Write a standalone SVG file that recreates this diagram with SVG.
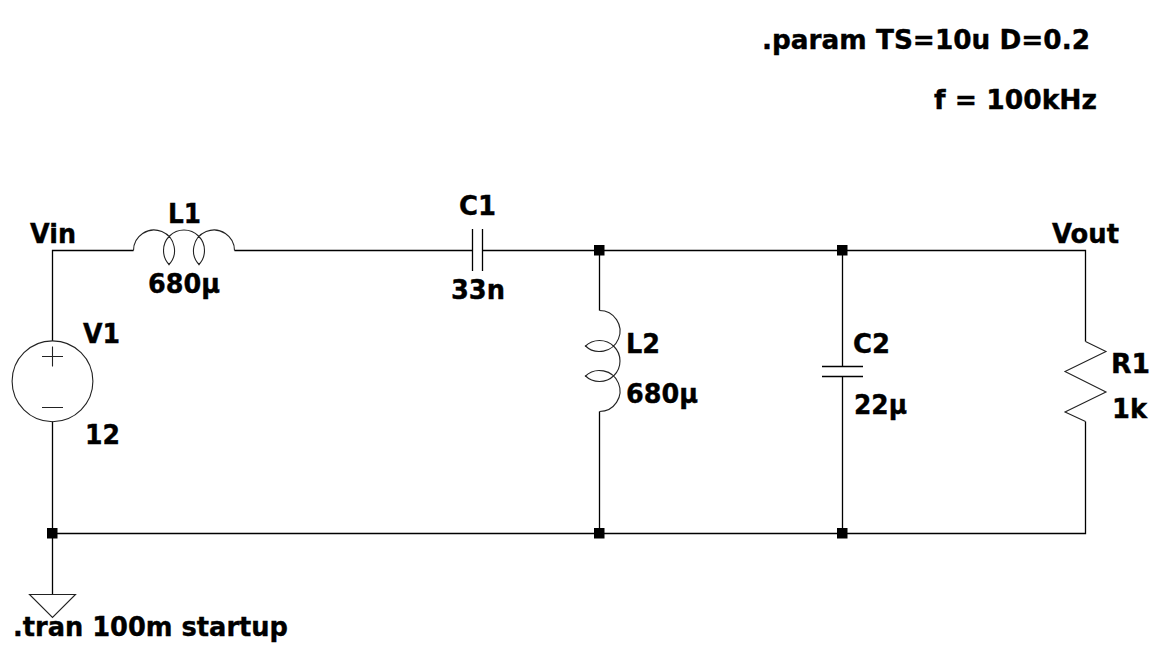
<svg xmlns="http://www.w3.org/2000/svg" width="1158" height="671" viewBox="0 0 1158 671">
<style>
.w{fill:none;stroke:#000;stroke-width:1.3}
.c{fill:none;stroke:#222;stroke-width:1.1}
.j{fill:#000}
text{font-family:"DejaVu Sans","Liberation Sans",sans-serif;font-weight:700;font-size:27px;fill:#000;stroke:#000;stroke-width:.4}
</style>
<defs>
<path id="coil" d="M0 0A20.5 20.5 0 1 1 35 14.5M36 14.5A20.5 20.5 0 1 1 65 14.5M66 14.5A20.5 20.5 0 1 1 101 0"/>
</defs>
<rect width="1158" height="671" fill="#fff"/>
<g id="connectors">
<path class="w" d="M52.5 341V250.5H133.5M234.5 250.5H472.5M482.5 250.5H1085.5V341.5M1085.5 421.5V533.5H52.5M52.5 421.5V594.5M599.5 250.5V310.5M599.5 411.5V533.5M842.5 250.5V366M842.5 376V533.5"/>
<rect class="j" x="594" y="245" width="10.500" height="10.500"/>
<rect class="j" x="837" y="245" width="10.500" height="10.500"/>
<rect class="j" x="47" y="528" width="10.500" height="10.500"/>
<rect class="j" x="594" y="528" width="10.500" height="10.500"/>
<rect class="j" x="837" y="528" width="10.500" height="10.500"/>
</g>
<g id="V1">
<circle class="c" cx="52.500" cy="381.300" r="40.400"/>
<path class="c" d="M42 356.500H63M52.500 346.500V366.500M42 407.500H63"/>
<text x="83" y="343" textLength="37" lengthAdjust="spacingAndGlyphs">V1</text>
<text x="85" y="444" textLength="35" lengthAdjust="spacingAndGlyphs">12</text>
</g>
<g id="L1">
<use href="#coil" class="c" transform="translate(133.5 250.5)"/>
<text x="168" y="223" textLength="33" lengthAdjust="spacingAndGlyphs">L1</text>
<text x="148" y="293" textLength="72" lengthAdjust="spacingAndGlyphs">680µ</text>
</g>
<g id="C1">
<path class="w" d="M472.500 229V271M482.500 229V271"/>
<text x="459" y="215" textLength="37" lengthAdjust="spacingAndGlyphs">C1</text>
<text x="451" y="299" textLength="54" lengthAdjust="spacingAndGlyphs">33n</text>
</g>
<g id="L2">
<use href="#coil" class="c" transform="translate(599.5 310.5) rotate(90)"/>
<text x="626" y="353" textLength="34" lengthAdjust="spacingAndGlyphs">L2</text>
<text x="626" y="403" textLength="72" lengthAdjust="spacingAndGlyphs">680µ</text>
</g>
<g id="C2">
<path class="w" d="M822 366.500H863M822 376.500H863"/>
<text x="853" y="353" textLength="37" lengthAdjust="spacingAndGlyphs">C2</text>
<text x="854" y="414" textLength="53" lengthAdjust="spacingAndGlyphs">22µ</text>
</g>
<g id="R1">
<path class="c" d="M1085.500 341.500L1106 351.500L1065 371.500L1106 392L1065 412L1085.500 421.500"/>
<text x="1111" y="373" textLength="39" lengthAdjust="spacingAndGlyphs">R1</text>
<text x="1112" y="418" textLength="35" lengthAdjust="spacingAndGlyphs">1k</text>
</g>
<g id="GND">
<path class="c" d="M29.500 594.500H75.500L52.500 617.500Z"/>
</g>
<g id="labels">
<text x="30" y="243" textLength="46" lengthAdjust="spacingAndGlyphs">Vin</text>
<text x="1052" y="243" textLength="67" lengthAdjust="spacingAndGlyphs">Vout</text>
<text x="762" y="49" textLength="328" lengthAdjust="spacingAndGlyphs">.param TS=10u D=0.2</text>
<text x="934" y="109" textLength="163" lengthAdjust="spacingAndGlyphs">f = 100kHz</text>
<text x="13" y="636" textLength="275" lengthAdjust="spacingAndGlyphs">.tran 100m startup</text>
</g>
</svg>
